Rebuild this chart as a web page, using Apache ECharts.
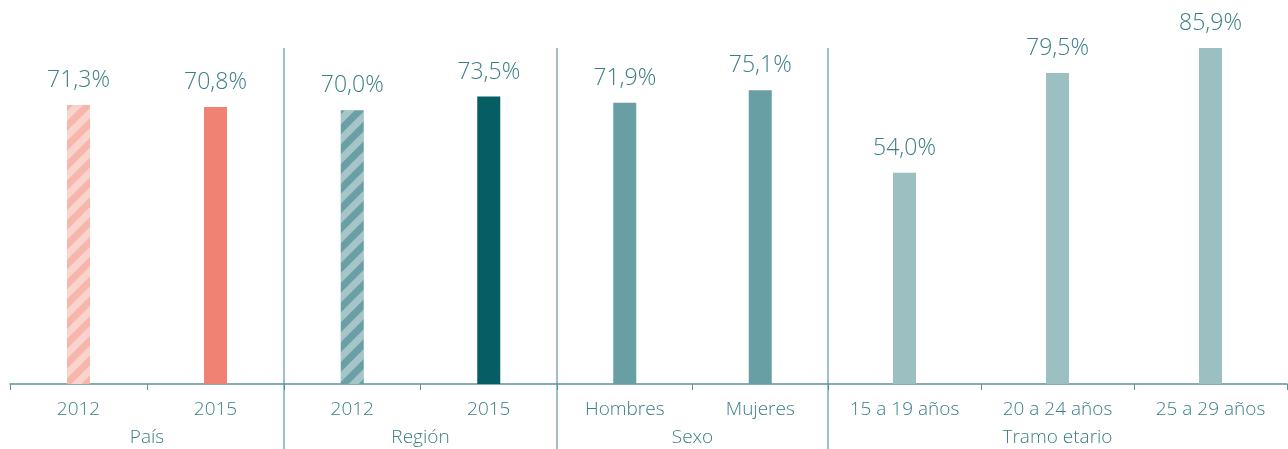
<!DOCTYPE html>
<html>
<head>
<meta charset="utf-8">
<script src="https://cdn.jsdelivr.net/npm/echarts@6/dist/echarts.min.js"></script>
<style>
  html, body { margin: 0; padding: 0; background: #fff; }
  #box { width: 1288px; height: 449px; }
</style>
</head>
<body>
<div id="box"></div>
<script>
// datos
var groupNames = ['País', 'Región', 'Sexo', 'Tramo etario'];
var categories = [
    ['2012', '2015'],
    ['2012', '2015'],
    ['Hombres', 'Mujeres'],
    ['15 a 19 años', '20 a 24 años', '25 a 29 años']
];
var values = [
    [71.3, 70.8],
    [70.0, 73.5],
    [71.9, 75.1],
    [54.0, 79.5, 85.9]
];
var hatched = [[true, false], [true, false], [false, false], [false, false, false]];
var barColors = [
    ['#f7b6ac', '#f08273'],
    ['#6a9fa5', '#075d64'],
    ['#689fa5', '#689fa5'],
    ['#9cbfc2', '#9cbfc2', '#9cbfc2']
];

// layout
var edges = [10, 284, 557, 828, 1287];
var W = 1288, H = 449;
var gridTop = 48, gridBottom = H - 384;
var textColor = '#3b7e86';
var lineColor = '#5e949b';
var font = '"Open Sans", sans-serif';

var chart = echarts.init(document.getElementById('box'));

var grids = [], xAxes = [], yAxes = [], series = [], graphics = [];
groupNames.forEach(function (name, g) {
    grids.push({
        left: edges[g], width: edges[g + 1] - edges[g], top: gridTop, bottom: gridBottom,
        outerBoundsMode: 'none'
    });
    xAxes.push({
        type: 'category',
        gridIndex: g,
        data: categories[g],
        name: name,
        nameLocation: 'middle',
        nameGap: 44,
        nameTextStyle: { color: textColor, fontSize: 19, fontFamily: font, fontWeight: 300 },
        axisLine: { lineStyle: { color: lineColor, width: 1.5 } },
        axisTick: { show: true, length: 6, lineStyle: { color: lineColor } },
        axisLabel: { color: textColor, fontSize: 19, fontFamily: font, fontWeight: 300, margin: 16, interval: 0 }
    });
    yAxes.push({ type: 'value', gridIndex: g, min: 0, max: 85.9, show: false, splitLine: { show: false } });
    series.push({
        type: 'bar',
        xAxisIndex: g,
        yAxisIndex: g,
        barWidth: 23,
        data: values[g].map(function (v, i) {
            var item = { value: v, itemStyle: { color: barColors[g][i] } };
            if (hatched[g][i]) {
                item.itemStyle.decal = {
                    symbol: 'rect',
                    dashArrayX: [1, 0],
                    dashArrayY: [7, 7],
                    rotation: -Math.PI / 4,
                    color: 'rgba(255,255,255,0.4)'
                };
            }
            return item;
        }),
        label: {
            show: true,
            position: 'top',
            distance: 13,
            color: textColor,
            fontSize: 23,
            fontFamily: font,
            fontWeight: 300,
            formatter: function (p) { return p.value.toFixed(1).replace('.', ',') + '%'; }
        }
    });
    if (g > 0) {
        graphics.push({
            type: 'line',
            shape: { x1: edges[g], y1: gridTop, x2: edges[g], y2: H },
            style: { stroke: '#3f8088', lineWidth: 1 }
        });
    }
});

chart.setOption({
    animation: false,
    grid: grids,
    xAxis: xAxes,
    yAxis: yAxes,
    series: series,
    graphic: graphics
});
</script>
</body>
</html>
